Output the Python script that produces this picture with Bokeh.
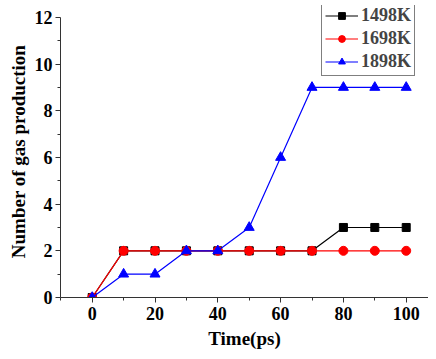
from bokeh.plotting import figure
from bokeh.models import Range1d, Legend, LegendItem
from bokeh.embed import file_html
from bokeh.resources import INLINE

time_ps = [0, 10, 20, 30, 40, 50, 60, 70, 80, 90, 100]
gas_1498 = [0, 2, 2, 2, 2, 2, 2, 2, 3, 3, 3]
gas_1698 = [0, 2, 2, 2, 2, 2, 2, 2, 2, 2, 2]
gas_1898 = [0, 1, 1, 2, 2, 3, 6, 9, 9, 9, 9]
labels = ["1498K", "1698K", "1898K"]

FONT = "Liberation Serif"

p = figure(width=428, height=351, output_backend="svg", toolbar_location=None,
           x_range=Range1d(-10.1, 107.1), y_range=Range1d(0, 12.51),
           min_border_left=60, min_border_right=0, min_border_top=5, min_border_bottom=54)
p.outline_line_color = None
p.xgrid.visible = False
p.ygrid.visible = False

l1 = p.line(time_ps, gas_1498, color="black", line_width=1.2)
m1 = p.scatter(time_ps, gas_1498, marker="square", size=8, color="black")
l2 = p.line(time_ps, gas_1698, color="red", line_width=1.2)
m2 = p.scatter(time_ps, gas_1698, marker="circle", size=9, color="red")
l3 = p.line(time_ps, gas_1898, color="blue", line_width=1.2)
m3 = p.scatter(time_ps, gas_1898, marker="triangle", size=10, color="blue")

for ax in (p.xaxis, p.yaxis):
    ax.axis_line_color = "#333333"
    ax.major_tick_line_color = "#333333"
    ax.minor_tick_line_color = "#333333"
    ax.major_tick_out = 5
    ax.major_tick_in = 0
    ax.minor_tick_out = 3
    ax.minor_tick_in = 0
    ax.major_label_text_font = FONT
    ax.major_label_text_font_style = "bold"
    ax.major_label_text_font_size = "18px"
    ax.major_label_text_color = "black"
    ax.axis_label_text_font = FONT
    ax.axis_label_text_font_style = "bold"
    ax.axis_label_text_font_size = "19px"
    ax.axis_label_text_color = "black"

p.xaxis.ticker = [0, 20, 40, 60, 80, 100]
p.xaxis.ticker.minor_ticks = [-10, 10, 30, 50, 70, 90]
p.yaxis.ticker = [0, 2, 4, 6, 8, 10, 12]
p.yaxis.ticker.minor_ticks = [1, 3, 5, 7, 9, 11]
p.yaxis.bounds = (0, 12)
p.xaxis.axis_label = "Time(ps)"
p.yaxis.axis_label = "Number of gas production"
p.xaxis.major_label_standoff = 4
p.yaxis.major_label_standoff = 3
p.xaxis.axis_label_standoff = 5
p.yaxis.axis_label_standoff = 3

legend = Legend(items=[LegendItem(label=labels[0], renderers=[l1, m1]),
                       LegendItem(label=labels[1], renderers=[l2, m2]),
                       LegendItem(label=labels[2], renderers=[l3, m3])],
                location=(261, 221))
legend.label_text_font = FONT
legend.label_text_font_style = "bold"
legend.label_text_font_size = "18px"
legend.border_line_color = "black"
legend.border_line_width = 1
legend.glyph_width = 33
legend.glyph_height = 17
legend.label_height = 17
legend.label_standoff = 3
legend.spacing = 2
legend.padding = 3
legend.margin = 0
legend.background_fill_alpha = 1
p.add_layout(legend, "center")

open("out.html", "w").write(file_html(p, INLINE))
